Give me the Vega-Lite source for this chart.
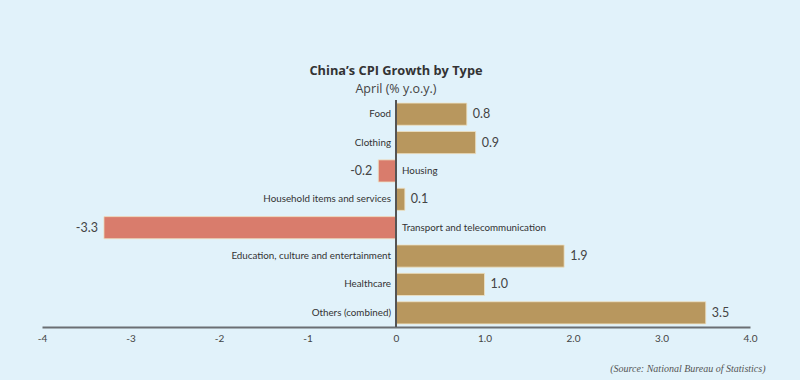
{
  "$schema": "https://vega.github.io/schema/vega-lite/v6.json",
  "width": 708,
  "height": 227,
  "autosize": "none",
  "padding": {"left": 42, "top": 100, "right": 50, "bottom": 53},
  "background": "#e1f2fa",
  "title": {
    "text": "China’s CPI Growth by Type",
    "subtitle": "April (% y.o.y.)",
    "anchor": "middle",
    "offset": 4,
    "font": "Open Sans",
    "fontSize": 12.8,
    "fontWeight": "bold",
    "color": "#333333",
    "subtitleFont": "Open Sans",
    "subtitleFontSize": 12.5,
    "subtitleColor": "#444444",
    "subtitlePadding": 5
  },
  "config": {"view": {"stroke": null}},
  "data": {
    "values": [
      {"type": "Food", "value": 0.8, "label": "0.8"},
      {"type": "Clothing", "value": 0.9, "label": "0.9"},
      {"type": "Housing", "value": -0.2, "label": "-0.2"},
      {"type": "Household items and services", "value": 0.1, "label": "0.1"},
      {"type": "Transport and telecommunication", "value": -3.3, "label": "-3.3"},
      {"type": "Education, culture and entertainment", "value": 1.9, "label": "1.9"},
      {"type": "Healthcare", "value": 1.0, "label": "1.0"},
      {"type": "Others (combined)", "value": 3.5, "label": "3.5"}
    ]
  },
  "encoding": {
    "y": {"field": "type", "type": "nominal", "sort": null, "axis": null,
          "scale": {"paddingInner": 0.22, "paddingOuter": 0.11}},
    "x": {"field": "value", "type": "quantitative",
          "scale": {"domain": [-4, 4], "nice": false},
          "axis": {
            "values": [-4, -3, -2, -1, 0, 1, 2, 3, 4],
            "labelExpr": "datum.value > 0 ? format(datum.value, '.1f') : toString(datum.value)",
            "grid": false, "ticks": false,
            "domainColor": "#6b6f73", "domainWidth": 2,
            "labelFont": "Lato", "labelFontSize": 10, "labelColor": "#444444", "labelPadding": 6,
            "labelFlush": false,
            "title": "(Source: National Bureau of Statistics)",
            "titleFont": "Liberation Serif", "titleFontStyle": "italic", "titleFontWeight": "normal",
            "titleFontSize": 10, "titleColor": "#555555",
            "titleAnchor": "end", "titleAlign": "right", "titleX": 723, "titleY": 36
          }}
  },
  "layer": [
    {
      "mark": {"type": "bar", "stroke": "#efe2c4", "strokeWidth": 0.8},
      "encoding": {
        "color": {
          "condition": {"test": "datum.value < 0", "value": "#d97c6c"},
          "value": "#b8975e"
        }
      }
    },
    {
      "mark": {"type": "rule", "color": "#555555", "strokeWidth": 1.5},
      "encoding": {"x": {"datum": 0}, "y": null}
    },
    {
      "transform": [{"filter": "datum.value >= 0"}],
      "mark": {"type": "text", "align": "right", "dx": -5, "font": "Lato", "fontSize": 9.8, "color": "#333333"},
      "encoding": {"x": {"datum": 0}, "text": {"field": "type"}}
    },
    {
      "transform": [{"filter": "datum.value < 0"}],
      "mark": {"type": "text", "align": "left", "dx": 6, "font": "Lato", "fontSize": 9.8, "color": "#333333"},
      "encoding": {"x": {"datum": 0}, "text": {"field": "type"}}
    },
    {
      "transform": [{"filter": "datum.value >= 0"}],
      "mark": {"type": "text", "align": "left", "dx": 6, "font": "Lato", "fontSize": 12.5, "color": "#444444"},
      "encoding": {"text": {"field": "label"}}
    },
    {
      "transform": [{"filter": "datum.value < 0"}],
      "mark": {"type": "text", "align": "right", "dx": -6, "font": "Lato", "fontSize": 12.5, "color": "#444444"},
      "encoding": {"text": {"field": "label"}}
    }
  ]
}
